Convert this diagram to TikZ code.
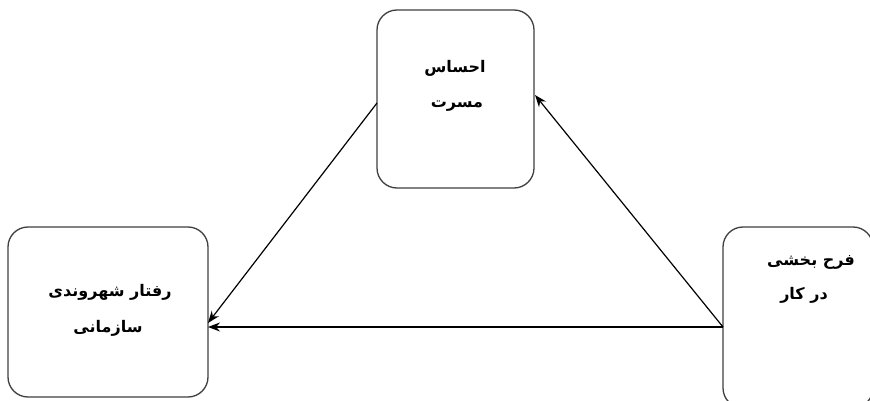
\documentclass[tikz,border=0pt]{standalone}
\usepackage{fontspec}
\newfontfamily\arabicfont[Script=Arabic]{DejaVu Sans}
\TeXXeTstate=1
\usetikzlibrary{arrows.meta}
\tikzset{
  box/.style={draw=black!75, line width=1.3pt, rounded corners=20pt},
  lbl/.style={font=\arabicfont\bfseries\fontsize{16}{20}\selectfont, text=black, inner sep=0pt},
  conn/.style={draw=black, line width=1.2pt, -{Stealth[length=12pt,width=9pt]}}
}
\begin{document}
\begin{tikzpicture}[x=1pt,y=-1pt]
\useasboundingbox (0,0) rectangle (870,401);
\fill[white] (0,0) rectangle (870,401);
% boxes
\draw[box] (377,10) rectangle (534,188);
\draw[box] (8,227) rectangle (208,397);
\draw[box] (723,227) rectangle (873,408);
% named anchors
\coordinate (topL) at (377,103);
\coordinate (topR) at (535,95);
\coordinate (leftA) at (208,323);
\coordinate (leftB) at (208,327);
\coordinate (rightP) at (723,327);
% labels
\node[lbl] (t1a) at (455,68) {\beginR احساس\endR};
\node[lbl] (t1b) at (457,106) {\beginR مسرت\endR};
\node[lbl] (t2a) at (110,292) {\beginR رفتار شهروندی\endR};
\node[lbl] (t2b) at (108,328) {\beginR سازمانی\endR};
\node[lbl] (t3a) at (811,262) {\beginR فرح بخشی\endR};
\node[lbl] (t3b) at (804,295) {\beginR در کار\endR};
% connectors
\draw[conn] (rightP) -- (topR);
\draw[conn] (topL) -- (leftA);
\draw[conn] (rightP) -- (leftB);
\end{tikzpicture}
\end{document}
